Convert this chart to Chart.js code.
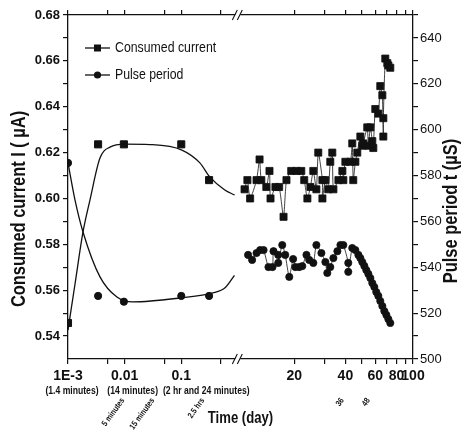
<!DOCTYPE html>
<html lang="en">
<head>
  <meta charset="UTF-8" />
  <title>Consumed current and pulse period vs time</title>
  <script src="https://cdn.jsdelivr.net/npm/chart.js"></script>
  <style>
    body { margin: 0; background: #fff; }
    canvas { display: block; }
  </style>
</head>
<body>
  <canvas id="chart" width="461" height="430"></canvas>

  <script>
    // first hours (days) - shown on the left, compressed log part of the axis
    const earlyDays = [0.001, 0.0034, 0.0097, 0.1, 0.31];
    const earlyCurrent = [0.5457, 0.6236, 0.6236, 0.6236, 0.608];
    const earlyPeriod = [585.5, 527.5, 525, 527.5, 527.5];

    // fitted curves through the first hours
    const currentFitDays = [0.001, 0.00133, 0.00184, 0.00244, 0.00367, 0.00551, 0.0101, 0.0279, 0.1025, 0.213, 0.318, 0.587, 0.877];
    const currentFitValues = [0.5426, 0.5627, 0.5854, 0.5993, 0.6176, 0.6224, 0.6237, 0.6235, 0.6211, 0.6155, 0.6094, 0.6037, 0.6015];
    const periodFitDays = [0.001, 0.00133, 0.00184, 0.00367, 0.00731, 0.014, 0.0944, 0.361, 0.6, 0.87];
    const periodFitValues = [585.5, 569.3, 555.4, 535.8, 527, 524.9, 526.6, 528.8, 531.2, 536.5];

    // long term measurements (days)
    const lateCurrentDays = [10.2, 10.6, 11.0, 12.0, 12.5, 12.8, 13.7, 14.3, 14.5, 15.5, 16.3, 17.3, 18.0, 19.2, 20.6, 22.0, 22.9, 23.9, 24.9, 25.9,
      27.0, 27.7, 29.3, 29.3, 30.5, 31.7, 32.6, 33.5, 34.0, 36.4, 38.4, 38.9, 40.0, 42.8, 43.9, 44.5, 45.8, 47.0, 49.0, 50.3,
      51.0, 53.8, 54.6, 56.1, 57.6, 58.4, 60.0, 62.5, 64.2, 66.0, 66.9, 66.9, 68.7, 70.6, 71.6, 73.5];
    const lateCurrent = [0.604, 0.608, 0.600, 0.608, 0.617, 0.608, 0.605, 0.612, 0.600, 0.605, 0.605, 0.592, 0.608, 0.612, 0.612, 0.612, 0.608, 0.600, 0.605, 0.612,
      0.604, 0.620, 0.608, 0.600, 0.608, 0.604, 0.616, 0.620, 0.604, 0.608, 0.612, 0.608, 0.616, 0.616, 0.624, 0.608, 0.616, 0.620, 0.627, 0.623,
      0.624, 0.631, 0.623, 0.631, 0.625, 0.622, 0.639, 0.637, 0.649, 0.645, 0.627, 0.635, 0.661, 0.659, 0.658, 0.657];
    const latePeriodDays = [10.7, 11.3, 12.0, 12.6, 13.2, 14.1, 14.9, 15.1, 16.1, 16.1, 17.0, 17.7, 18.7, 19.7, 20.3, 21.4, 22.3, 23.6, 24.5, 25.9,
      27.0, 28.9, 30.5, 31.3, 32.6, 34.0, 35.9, 37.4, 38.9, 41.6, 41.6, 43.9, 45.8, 47.7, 49.0, 50.3, 51.7, 53.1, 54.6, 56.1,
      57.6, 59.2, 60.8, 62.5, 64.2, 66.0, 67.8, 69.7, 71.6, 73.5];
    const latePeriod = [545.4, 543.2, 546.2, 547.5, 547.5, 540.1, 540.1, 547, 545.4, 541.9, 549.7, 545.4, 535.8, 543.6, 540.1, 540.1, 540.5, 545.4, 543.2, 541.9,
      549.7, 546.2, 542.3, 537.5, 540.1, 544, 547, 549.7, 549.7, 541.9, 538, 548.4, 547.5, 545.4, 544, 542.3, 540.6, 538.8, 537.1, 535.3,
      533.1, 531.4, 529.2, 527.5, 525.3, 523.1, 520.9, 519.2, 517.4, 515.7];

    // axis ticks
    const xTickDays = [0.001, 0.005, 0.01, 0.05, 0.1, 0.5, 20, 30, 40, 50, 60, 70, 80, 90, 100];
    const xTickText = ['1E-3', '', '0.01', '', '0.1', '', '20', '', '40', '', '60', '', '80', '', '100'];
    const xSubText = ['(1.4 minutes)', '(14 minutes)', '(2 hr and 24 minutes)'];
    const currentTicks = [0.54, 0.55, 0.56, 0.57, 0.58, 0.59, 0.60, 0.61, 0.62, 0.63, 0.64, 0.65, 0.66, 0.67, 0.68];
    const periodTicks = [500, 510, 520, 530, 540, 550, 560, 570, 580, 590, 600, 610, 620, 630, 640, 650];
    const noteText = ['5 minutes', '15 minutes', '2.5 hrs', '36', '48'];
    const noteDays = [0.0093, 0.0315, 0.24, 38.4, 54.6];

    // broken time axis: log part for the first hours, stretched log part for days
    const LEFT_START = 0.001, LEFT_END = 0.9, RIGHT_START = 9, RIGHT_END = 100, RIGHT_STRETCH = 3;
    const U_SPLIT = Math.log10(LEFT_END / LEFT_START);
    function toU(day) {
      if (day <= LEFT_END) return Math.log10(day / LEFT_START);
      return U_SPLIT + RIGHT_STRETCH * Math.log10(day / RIGHT_START);
    }
    const pts = (xs, ys) => xs.map((d, i) => ({ x: toU(d), y: ys[i] }));

    // narrow font if the machine has one, otherwise squeeze by hand
    const probe = document.createElement('canvas').getContext('2d');
    probe.font = '20px "Liberation Sans Narrow", monospace';
    const wNarrow = probe.measureText('Consumed current').width;
    probe.font = '20px monospace';
    const hasNarrow = Math.abs(wNarrow - probe.measureText('Consumed current').width) > 1;
    const FAMILY = hasNarrow ? '"Liberation Sans Narrow", Arial, sans-serif' : '"Liberation Sans", Arial, sans-serif';
    const SQUEEZE = hasNarrow ? 1 : 0.82;
    const INK = '#111';

    function text(ctx, str, x, y, size, bold, align, angle) {
      ctx.save();
      ctx.translate(x, y);
      if (angle) ctx.rotate(angle);
      ctx.scale(SQUEEZE, 1);
      ctx.font = (bold ? 'bold ' : '') + size + 'px ' + FAMILY;
      ctx.fillStyle = INK;
      ctx.textAlign = align;
      ctx.textBaseline = 'middle';
      ctx.fillText(str, 0, 0);
      ctx.restore();
    }

    const decor = {
      id: 'decor',
      afterDraw(chart) {
        const ctx = chart.ctx;
        const a = chart.chartArea;
        const xs = chart.scales.x;

        // axis break marks
        const bx = xs.getPixelForValue(U_SPLIT) + 3;
        [a.top, a.bottom].forEach(y => {
          ctx.save();
          ctx.fillStyle = '#fff';
          ctx.fillRect(bx - 3, y - 2, 5, 4);
          ctx.strokeStyle = INK;
          ctx.lineWidth = 1.1;
          ctx.beginPath();
          ctx.moveTo(bx - 6, y + 5); ctx.lineTo(bx - 1, y - 5);
          ctx.moveTo(bx - 1, y + 5); ctx.lineTo(bx + 4, y - 5);
          ctx.stroke();
          ctx.restore();
        });

        // second line under the first three tick labels
        const subShift = [4, 8, 25];
        [0.001, 0.01, 0.1].forEach((d, i) => {
          text(ctx, xSubText[i], xs.getPixelForValue(toU(d)) + subShift[i], a.bottom + 32, 10.5, true, 'center');
        });

        // slanted notes below the axis
        noteText.forEach((t, i) => {
          text(ctx, t, xs.getPixelForValue(toU(noteDays[i])), a.bottom + 40, 8.5, true, 'right', -0.95);
        });

        // axis titles
        const mid = (a.top + a.bottom) / 2;
        text(ctx, 'Consumed current I ( \u00b5A)', 19, mid + 22, 20, true, 'center', -Math.PI / 2);
        text(ctx, 'Pulse period t (\u00b5S)', 451, mid + 24, 20, true, 'center', -Math.PI / 2);
        text(ctx, 'Time (day)', (a.left + a.right) / 2, a.bottom + 60, 16, true, 'center');

        // legend inside the plot
        const rows = [['Consumed current', 'rect', 48], ['Pulse period', 'circle', 75]];
        rows.forEach(([label, shape, y]) => {
          ctx.save();
          ctx.strokeStyle = INK;
          ctx.fillStyle = INK;
          ctx.lineWidth = 1.3;
          ctx.beginPath();
          ctx.moveTo(85, y); ctx.lineTo(110, y);
          ctx.stroke();
          ctx.beginPath();
          if (shape === 'rect') ctx.rect(94, y - 3.5, 7, 7);
          else ctx.arc(97.5, y, 3.6, 0, Math.PI * 2);
          ctx.fill();
          ctx.restore();
          text(ctx, label, 115, y, 15, false, 'left');
        });
      }
    };

    const tickFont = { family: FAMILY, size: 14, weight: 'bold' };
    const axisX = (pos) => ({
      type: 'linear',
      position: pos,
      min: 0,
      max: toU(RIGHT_END),
      afterBuildTicks: s => { s.ticks = xTickDays.map(d => ({ value: toU(d) })); },
      afterFit: s => { s.height = pos === 'bottom' ? 71 : 15; },
      ticks: {
        display: pos === 'bottom',
        autoSkip: false,
        maxRotation: 0,
        padding: 4,
        color: INK,
        font: tickFont,
        callback: (v, i) => xTickText[i]
      },
      grid: { drawOnChartArea: false, color: INK, tickLength: 5, lineWidth: 1.2 },
      border: { color: INK, width: 1.3 }
    });

    new Chart(document.getElementById('chart'), {
      type: 'scatter',
      data: {
        datasets: [
          {
            label: 'Consumed current fit',
            data: pts(currentFitDays, currentFitValues),
            yAxisID: 'y', showLine: true, pointRadius: 0,
            borderColor: INK, borderWidth: 1.3, cubicInterpolationMode: 'monotone'
          },
          {
            label: 'Pulse period fit',
            data: pts(periodFitDays, periodFitValues),
            yAxisID: 'y1', showLine: true, pointRadius: 0,
            borderColor: INK, borderWidth: 1.3, cubicInterpolationMode: 'monotone'
          },
          {
            label: 'Consumed current',
            data: pts(earlyDays, earlyCurrent),
            yAxisID: 'y', pointStyle: 'rect', pointRadius: 5,
            backgroundColor: INK, borderColor: INK
          },
          {
            label: 'Pulse period',
            data: pts(earlyDays, earlyPeriod),
            yAxisID: 'y1', pointStyle: 'circle', pointRadius: 3.6,
            backgroundColor: INK, borderColor: INK
          },
          {
            label: 'Consumed current (days)',
            data: pts(lateCurrentDays, lateCurrent),
            yAxisID: 'y', showLine: true, borderWidth: 0.8, tension: 0.2,
            pointStyle: 'rect', pointRadius: 5,
            backgroundColor: INK, borderColor: INK
          },
          {
            label: 'Pulse period (days)',
            data: pts(latePeriodDays, latePeriod),
            yAxisID: 'y1', showLine: true, borderWidth: 0.8, tension: 0.2,
            pointStyle: 'circle', pointRadius: 3.6,
            backgroundColor: INK, borderColor: INK
          }
        ]
      },
      options: {
        responsive: false,
        animation: false,
        layout: { padding: 0 },
        plugins: { legend: { display: false }, tooltip: { enabled: false } },
        scales: {
          x: axisX('bottom'),
          xt: axisX('top'),
          y: {
            position: 'left',
            min: 0.53,
            max: 0.68,
            afterBuildTicks: s => { s.ticks = currentTicks.map(v => ({ value: v })); },
            afterFit: s => { s.width = 68; },
            ticks: {
              padding: 3,
              color: INK,
              font: { family: FAMILY, size: 13, weight: 'bold' },
              callback: v => (Math.round(v * 100) % 2 === 0 ? v.toFixed(2) : '')
            },
            grid: { drawOnChartArea: false, color: INK, tickLength: 5, lineWidth: 1.2 },
            border: { color: INK, width: 1.3 }
          },
          y1: {
            position: 'right',
            min: 500,
            max: 650,
            afterBuildTicks: s => { s.ticks = periodTicks.map(v => ({ value: v })); },
            afterFit: s => { s.width = 48; },
            ticks: {
              padding: 2,
              color: INK,
              font: { family: FAMILY, size: 13 },
              callback: v => (v % 20 === 0 && v < 650 ? String(v) : '')
            },
            grid: { drawOnChartArea: false, color: INK, tickLength: 5, lineWidth: 1.2 },
            border: { color: INK, width: 1.3 }
          }
        }
      },
      plugins: [decor]
    });
  </script>
</body>
</html>
